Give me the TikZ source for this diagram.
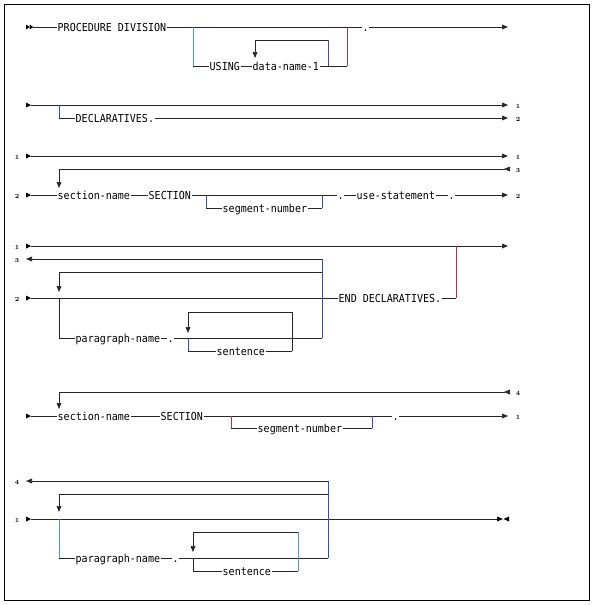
\documentclass[tikz,border=0pt]{standalone}
\usepackage{fontspec}
\newfontfamily\diag[FakeStretch=0.91]{DejaVu Sans Mono}
\usetikzlibrary{arrows.meta}
\definecolor{vblue}{RGB}{50,80,170}
\definecolor{vlblue}{RGB}{80,150,210}
\definecolor{vred}{RGB}{175,50,75}
\tikzset{
  kw/.style={font=\diag\fontsize{11}{11}\selectfont, inner xsep=0.5pt, inner ysep=0pt, text height=8pt, text depth=0pt, anchor=west},
  num/.style={font=\fontsize{6.3}{6.3}\selectfont\bfseries, inner sep=0pt},
  ln/.style={line width=0.7pt, draw=black!85},
  arr/.style={ln, -{Triangle[length=6pt,width=4.8pt]}},
  rarr/.style={ln, -{Triangle[length=6pt,width=4.8pt,reversed]}},
  vb/.style={line width=0.7pt, draw=vblue},
  vl/.style={line width=0.7pt, draw=vlblue},
  vr/.style={line width=0.7pt, draw=vred},
  vk/.style={line width=0.7pt, draw=black!85},
  mk/.style={fill=black}
}
\newcommand{\startmark}[2]{\fill[mk] (#1,#2-2.5) -- (#1+5,#2) -- (#1,#2+2.5) -- cycle;}
\begin{document}
\begin{tikzpicture}[x=1pt,y=-1pt]
\useasboundingbox (0,0) rectangle (596,605);
\draw[line width=1.2pt] (4.5,4.5) rectangle (589.5,600.5);

% ---------------- Section 1 ----------------
\fill[mk] (26,24.5) -- (29.6,27) -- (26,29.5) -- cycle;
\fill[mk] (29.6,24.5) -- (33.2,27) -- (29.6,29.5) -- cycle;
\coordinate (s1) at (33,27);
\node[kw] (pd) at (57,27) {PROCEDURE DIVISION};
\node[kw] (dot1) at (362,27) {.};
\coordinate (e1) at (508,27);
\draw[ln] (s1) -- (pd.west);
\draw[ln] (pd.east) -- (dot1.west);
\draw[arr] (dot1.east) -- (e1);
\coordinate (b1) at (193,27);
\coordinate (b1d) at (193,66);
\node[kw] (using) at (209,66) {USING};
\node[kw] (dn1) at (252,66) {data-name-1};
\draw[vl] (b1) -- (b1d);
\draw[ln] (b1d) -- (using.west);
\draw[ln] (using.east) -- (dn1.west);
\coordinate (l1) at (328,66);
\coordinate (r1) at (347,66);
\coordinate (r1t) at (347,27);
\draw[ln] (dn1.east) -- (r1);
\draw[vr] (r1) -- (r1t);
\coordinate (l1t) at (328,40);
\coordinate (l1l) at (255,40);
\coordinate (l1a) at (255,58);
\draw[vb] (l1) -- (l1t);
\draw[ln] (l1t) -- (l1l);
\draw[arr] (l1l) -- (l1a);

% ---------------- Section 2 ----------------
\startmark{26}{105}
\coordinate (s2) at (31,105);
\coordinate (e2) at (508,105);
\draw[arr] (s2) -- (e2);
\node[num] (n2a) at (518,106) {1};
\coordinate (b2) at (59,105);
\coordinate (b2d) at (59,118);
\node[kw] (decl) at (75,118) {DECLARATIVES.};
\coordinate (e2b) at (508,118);
\draw[vb] (b2) -- (b2d);
\draw[ln] (b2d) -- (decl.west);
\draw[arr] (decl.east) -- (e2b);
\node[num] (n2b) at (518,119) {2};

% ---------------- Section 3 ----------------
\node[num] (n3a) at (17,157) {1};
\startmark{26}{156}
\coordinate (s3a) at (31,156);
\coordinate (e3a) at (508,156);
\draw[arr] (s3a) -- (e3a);
\node[num] (n3b) at (518,157) {1};
\coordinate (c3) at (59,169);
\coordinate (c3e) at (510,169);
\coordinate (c3a) at (59,188);
\draw[rarr] (c3) -- (c3e);
\draw[arr] (c3) -- (c3a);
\node[num] (n3c) at (518,170) {3};
\node[num] (n3d) at (17,196) {2};
\startmark{26}{195}
\coordinate (s3) at (31,195);
\node[kw] (sn1) at (57,195) {section-name};
\node[kw] (sec1) at (148,195) {SECTION};
\node[kw] (dot3a) at (337,195) {.};
\node[kw] (use) at (356,195) {use-statement};
\node[kw] (dot3b) at (448,195) {.};
\coordinate (e3) at (508,195);
\draw[ln] (s3) -- (sn1.west);
\draw[ln] (sn1.east) -- (sec1.west);
\draw[ln] (sec1.east) -- (dot3a.west);
\draw[ln] (dot3a.east) -- (use.west);
\draw[ln] (use.east) -- (dot3b.west);
\draw[arr] (dot3b.east) -- (e3);
\node[num] (n3e) at (518,196) {2};
\coordinate (b3) at (206,195);
\coordinate (b3d) at (206,208);
\node[kw] (seg1) at (222,208) {segment-number};
\coordinate (b3r) at (322,208);
\coordinate (b3rt) at (322,195);
\draw[vb] (b3) -- (b3d);
\draw[ln] (b3d) -- (seg1.west);
\draw[ln] (seg1.east) -- (b3r);
\draw[vb] (b3r) -- (b3rt);

% ---------------- Section 4 ----------------
\node[num] (n4a) at (17,247) {1};
\startmark{26}{246}
\coordinate (s4a) at (31,246);
\coordinate (e4a) at (508,246);
\draw[arr] (s4a) -- (e4a);
\node[num] (n4b) at (17,260) {3};
\coordinate (r4) at (322,259);
\coordinate (l4) at (26,259);
\draw[arr] (r4) -- (l4);
\coordinate (t4r) at (322,272);
\coordinate (t4l) at (59,272);
\coordinate (t4a) at (59,292);
\draw[ln] (t4r) -- (t4l);
\draw[arr] (t4l) -- (t4a);
\node[num] (n4c) at (17,299) {2};
\startmark{26}{298}
\coordinate (s4) at (31,298);
\node[kw] (endd) at (338,298) {END DECLARATIVES.};
\coordinate (rd) at (456,298);
\coordinate (rdt) at (456,246);
\draw[ln] (s4) -- (endd.west);
\draw[ln] (endd.east) -- (rd);
\draw[vr] (rd) -- (rdt);
\coordinate (v4b) at (322,338);
\draw[vb] (r4) -- (v4b);
\coordinate (p4) at (59,298);
\coordinate (p4d) at (59,338);
\node[kw] (pn1) at (75,338) {paragraph-name};
\node[kw] (dot4) at (167,338) {.};
\draw[vk] (p4) -- (p4d);
\draw[ln] (p4d) -- (pn1.west);
\draw[ln] (pn1.east) -- (dot4.west);
\draw[ln] (dot4.east) -- (v4b);
\coordinate (q4tl) at (188,312);
\coordinate (q4tr) at (292,312);
\coordinate (q4a) at (188,333);
\coordinate (q4m) at (188,338);
\coordinate (q4bl) at (188,351);
\coordinate (q4br) at (292,351);
\node[kw] (sen1) at (216,351) {sentence};
\draw[ln] (q4tr) -- (q4tl);
\draw[arr] (q4tl) -- (q4a);
\draw[vb] (q4m) -- (q4bl);
\draw[ln] (q4bl) -- (sen1.west);
\draw[ln] (sen1.east) -- (q4br);
\draw[vk] (q4br) -- (q4tr);

% ---------------- Section 5 ----------------
\coordinate (c5) at (59,392);
\coordinate (c5e) at (510,392);
\coordinate (c5a) at (59,409);
\draw[rarr] (c5) -- (c5e);
\draw[arr] (c5) -- (c5a);
\node[num] (n5a) at (518,393) {4};
\startmark{26}{416}
\coordinate (s5) at (31,416);
\node[kw] (sn2) at (57,416) {section-name};
\node[kw] (sec2) at (160,416) {SECTION};
\node[kw] (dot5) at (392,416) {.};
\coordinate (e5) at (508,416);
\draw[ln] (s5) -- (sn2.west);
\draw[ln] (sn2.east) -- (sec2.west);
\draw[ln] (sec2.east) -- (dot5.west);
\draw[arr] (dot5.east) -- (e5);
\node[num] (n5b) at (518,417) {1};
\coordinate (b5) at (231,416);
\coordinate (b5d) at (231,428);
\node[kw] (seg2) at (257,428) {segment-number};
\coordinate (b5r) at (372,428);
\coordinate (b5rt) at (372,416);
\draw[vr] (b5) -- (b5d);
\draw[ln] (b5d) -- (seg2.west);
\draw[ln] (seg2.east) -- (b5r);
\draw[vb] (b5r) -- (b5rt);

% ---------------- Section 6 ----------------
\node[num] (n6a) at (17,482) {4};
\coordinate (r6) at (328,481);
\coordinate (l6) at (26,481);
\draw[arr] (r6) -- (l6);
\coordinate (t6r) at (328,494);
\coordinate (t6l) at (59,494);
\coordinate (t6a) at (59,512);
\draw[ln] (t6r) -- (t6l);
\draw[arr] (t6l) -- (t6a);
\node[num] (n6b) at (17,520) {1};
\startmark{26}{519}
\coordinate (s6) at (31,519);
\coordinate (e6) at (497,519);
\draw[ln] (s6) -- (e6);
\fill[mk] (497,516.5) -- (503,519) -- (497,521.5) -- cycle;
\fill[mk] (509,516.5) -- (503.6,519) -- (509,521.5) -- cycle;
\coordinate (v6b) at (328,558);
\draw[vb] (r6) -- (v6b);
\coordinate (p6) at (59,519);
\coordinate (p6d) at (59,558);
\node[kw] (pn2) at (75,558) {paragraph-name};
\node[kw] (dot6) at (172,558) {.};
\draw[vl] (p6) -- (p6d);
\draw[ln] (p6d) -- (pn2.west);
\draw[ln] (pn2.east) -- (dot6.west);
\draw[ln] (dot6.east) -- (v6b);
\coordinate (q6tl) at (193,532);
\coordinate (q6tr) at (298,532);
\coordinate (q6a) at (193,552);
\coordinate (q6m) at (193,558);
\coordinate (q6bl) at (193,571);
\coordinate (q6br) at (298,571);
\node[kw] (sen2) at (222,571) {sentence};
\draw[ln] (q6tr) -- (q6tl);
\draw[arr] (q6tl) -- (q6a);
\draw[vk] (q6m) -- (q6bl);
\draw[ln] (q6bl) -- (sen2.west);
\draw[ln] (sen2.east) -- (q6br);
\draw[vl] (q6br) -- (q6tr);
\end{tikzpicture}
\end{document}
